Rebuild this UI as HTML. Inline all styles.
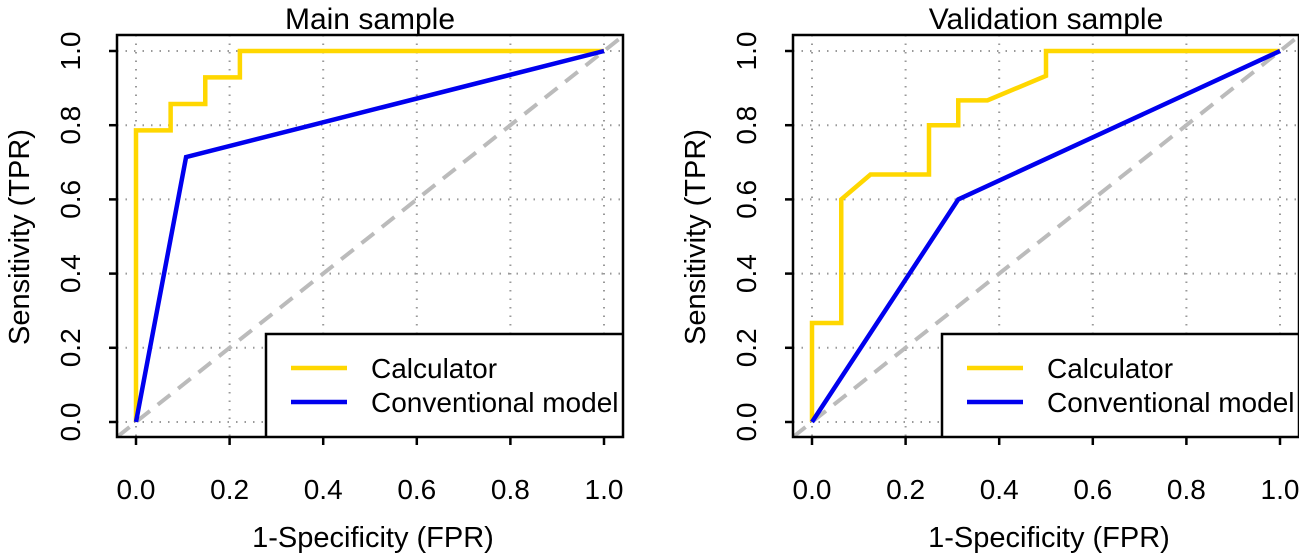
<!DOCTYPE html>
<html><head><meta charset="utf-8"><style>body{margin:0;background:#fff}svg{display:block}text{font-family:"Liberation Sans",Arial,sans-serif;fill:#000}</style></head>
<body>
<svg id="s" width="1299" height="557" viewBox="0 0 1299 557" xmlns="http://www.w3.org/2000/svg"></svg>
<script>
const ticks=[0,0.2,0.4,0.6,0.8,1.0];
const tickLabels=["0.0","0.2","0.4","0.6","0.8","1.0"];
const titles=["Main sample","Validation sample"];
const legendLabels=["Calculator","Conventional model"];
const mainCalcX=[0,0,0.074,0.074,0.148,0.148,0.222,0.222,1];
const mainCalcY=[0,0.786,0.786,0.857,0.857,0.929,0.929,1,1];
const mainConvX=[0,0.107,1];
const mainConvY=[0,0.714,1];
const valCalcX=[0,0,0.0625,0.0625,0.125,0.25,0.25,0.3125,0.3125,0.375,0.5,0.5,1];
const valCalcY=[0,0.267,0.267,0.6,0.667,0.667,0.8,0.8,0.867,0.867,0.933,1,1];
const valConvX=[0,0.3125,1];
const valConvY=[0,0.6,1];
const panels=[{off:0,cx:mainCalcX,cy:mainCalcY,vx:mainConvX,vy:mainConvY},{off:676,cx:valCalcX,cy:valCalcY,vx:valConvX,vy:valConvY}];
const NS="http://www.w3.org/2000/svg",S=document.getElementById('s');
function el(t,a,p){const e=document.createElementNS(NS,t);for(const k in a)e.setAttribute(k,a[k]);(p||S).appendChild(e);return e;}
const defs=el('defs',{});
panels.forEach((P,i)=>{
 const g=el('g',{});
 
 
 const X=v=>P.off+136+v*468, Y=v=>422-v*371;
 const L=P.off+117,R=P.off+623,T=35,B=437;
 const cp=el('clipPath',{id:'c'+i},defs);el('rect',{x:L,y:T,width:R-L,height:B-T},cp);
 ticks.forEach(t=>{
  const gx=el('line',{x1:X(t),x2:X(t),y1:T,y2:B,stroke:'#999','stroke-width':2,'stroke-dasharray':'1.5 7'},g);
  
  const gy=el('line',{x1:L,x2:R,y1:Y(t),y2:Y(t),stroke:'#999','stroke-width':2,'stroke-dasharray':'1.5 7'},g);
  
 });
 const d=el('line',{x1:X(-19/468),y1:Y(-15/371),x2:X(1.04),y2:Y(1.04),stroke:'#bbb','stroke-width':4,'stroke-dasharray':'16 10','clip-path':`url(#c${i})`},g);
 
 const pc=el('polyline',{points:P.cx.map((v,k)=>X(v)+','+Y(P.cy[k])).join(' '),fill:'none',stroke:'#FFD700','stroke-width':4.5},g);
 
 const pv=el('polyline',{points:P.vx.map((v,k)=>X(v)+','+Y(P.vy[k])).join(' '),fill:'none',stroke:'#0000EE','stroke-width':4.5},g);
 
 const lg=el('g',{'clip-path':`url(#c${i})`},g);
 
 const lx=P.off+266;
 el('rect',{x:lx,y:334,width:400,height:200,fill:'#fff',stroke:'#000','stroke-width':2.5},lg);
 [['#FFD700',0],['#0000EE',1]].forEach(([c,k])=>{
  const yy=368+k*34;
  el('line',{x1:lx+25,x2:lx+81,y1:yy,y2:yy,stroke:c,'stroke-width':4.5},lg);
  const t=el('text',{x:lx+105,y:yy+10,'font-size':28},lg);t.textContent=legendLabels[k];
  
 });
 el('rect',{x:L,y:T,width:R-L,height:B-T,fill:'none',stroke:'#000','stroke-width':2.5},g);
 ticks.forEach((t,k)=>{
  el('line',{x1:X(t),x2:X(t),y1:B,y2:B+8,stroke:'#000','stroke-width':2.5},g);
  const tx=el('text',{x:X(t),y:499,'font-size':28,'text-anchor':'middle'},g);tx.textContent=tickLabels[k];
  
  el('line',{x1:L,x2:L-8,y1:Y(t),y2:Y(t),stroke:'#000','stroke-width':2.5},g);
  const ty=el('text',{x:0,y:0,'font-size':28,'text-anchor':'middle',transform:`translate(${P.off+80},${Y(t)}) rotate(-90)`},g);ty.textContent=tickLabels[k];
  
 });
 const ti=el('text',{x:P.off+370,y:29,'font-size':30,'text-anchor':'middle'},g);ti.textContent=titles[i];
 
 const xt=el('text',{x:P.off+373,y:547,'font-size':29,'text-anchor':'middle'},g);xt.textContent='1-Specificity (FPR)';
 
 const yt=el('text',{x:0,y:0,'font-size':29,'text-anchor':'middle',transform:`translate(${P.off+29},237) rotate(-90)`},g);yt.textContent='Sensitivity (TPR)';
 
});
</script>
</body></html>
